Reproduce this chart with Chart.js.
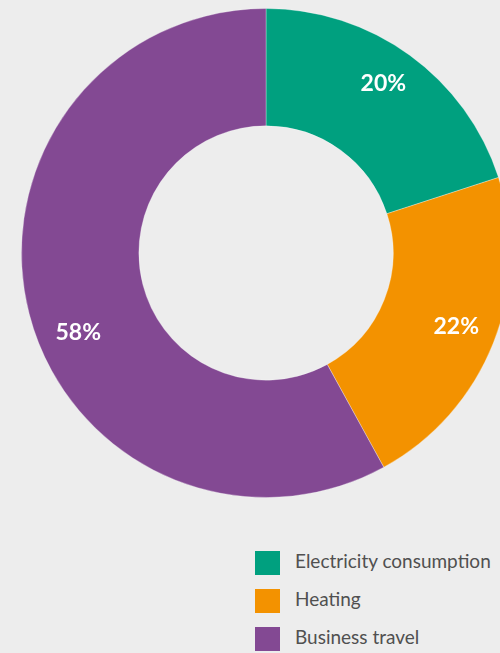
<!DOCTYPE html>
<html>
<head>
<meta charset="utf-8">
<script src="https://cdn.jsdelivr.net/npm/chart.js@4.4.1/dist/chart.umd.min.js"></script>
<style>
  html, body { margin: 0; padding: 0; }
  body {
    width: 500px; height: 653px; overflow: hidden;
    background: #ededed; position: relative;
    font-family: Lato, "Open Sans", sans-serif;
  }
  #wrap { position: absolute; left: 21px; top: 8px; width: 490px; height: 490px; }
  #legend { position: absolute; left: 255px; top: 551px; }
  .item { position: relative; height: 38px; }
  .box { position: absolute; left: 0; top: 0; width: 25px; height: 24px; }
  .txt { position: absolute; left: 40px; top: -2px; font-size: 19px; color: #505050; white-space: nowrap; line-height: 24px; }
</style>
</head>
<body>
<div id="wrap"><canvas id="donut" width="490" height="490"></canvas></div>
<div id="legend"></div>
<script>
// --- data ---
const categories = ['Electricity consumption', 'Heating', 'Business travel'];
const shares = [20, 22, 58];
const sliceColors = ['#00a07f', '#f39200', '#834993'];

// white percent labels on the ring
const pctLabels = {
  id: 'pctLabels',
  afterDatasetsDraw(chart, args, opts) {
    const ctx = chart.ctx;
    const meta = chart.getDatasetMeta(0);
    const total = shares.reduce((a, b) => a + b, 0);
    ctx.save();
    ctx.fillStyle = '#fff';
    ctx.font = 'bold 23px Lato, "Open Sans", sans-serif';
    ctx.textAlign = 'center';
    ctx.textBaseline = 'middle';
    meta.data.forEach((arc, i) => {
      const p = arc.getProps(['x', 'y', 'startAngle', 'endAngle', 'innerRadius', 'outerRadius']);
      const mid = (p.startAngle + p.endAngle) / 2 + (opts.shift[i] || 0) * Math.PI / 180;
      const r = p.innerRadius + (p.outerRadius - p.innerRadius) * 0.66;
      const pct = Math.round(shares[i] / total * 100) + '%';
      ctx.fillText(pct, p.x + Math.cos(mid) * r, p.y + Math.sin(mid) * r - 2);
    });
    ctx.restore();
  }
};

const chart = new Chart(document.getElementById('donut'), {
  type: 'doughnut',
  data: {
    labels: categories,
    datasets: [{
      data: shares,
      backgroundColor: sliceColors,
      borderColor: 'rgba(255,255,255,0.3)',
      borderWidth: 1
    }]
  },
  options: {
    responsive: false,
    animation: false,
    cutout: '52%',
    layout: { padding: 0 },
    plugins: {
      legend: { display: false },
      tooltip: { enabled: false },
      pctLabels: { shift: [-1, 0, -9] }
    }
  },
  plugins: [pctLabels]
});

// html legend from the chart's own labels
const legend = document.getElementById('legend');
chart.options.plugins.legend.labels.generateLabels(chart).forEach(l => {
  const item = document.createElement('div');
  item.className = 'item';
  item.innerHTML = '<div class="box" style="background:' + l.fillStyle + '"></div><div class="txt">' + l.text + '</div>';
  legend.appendChild(item);
});
</script>
</body>
</html>
